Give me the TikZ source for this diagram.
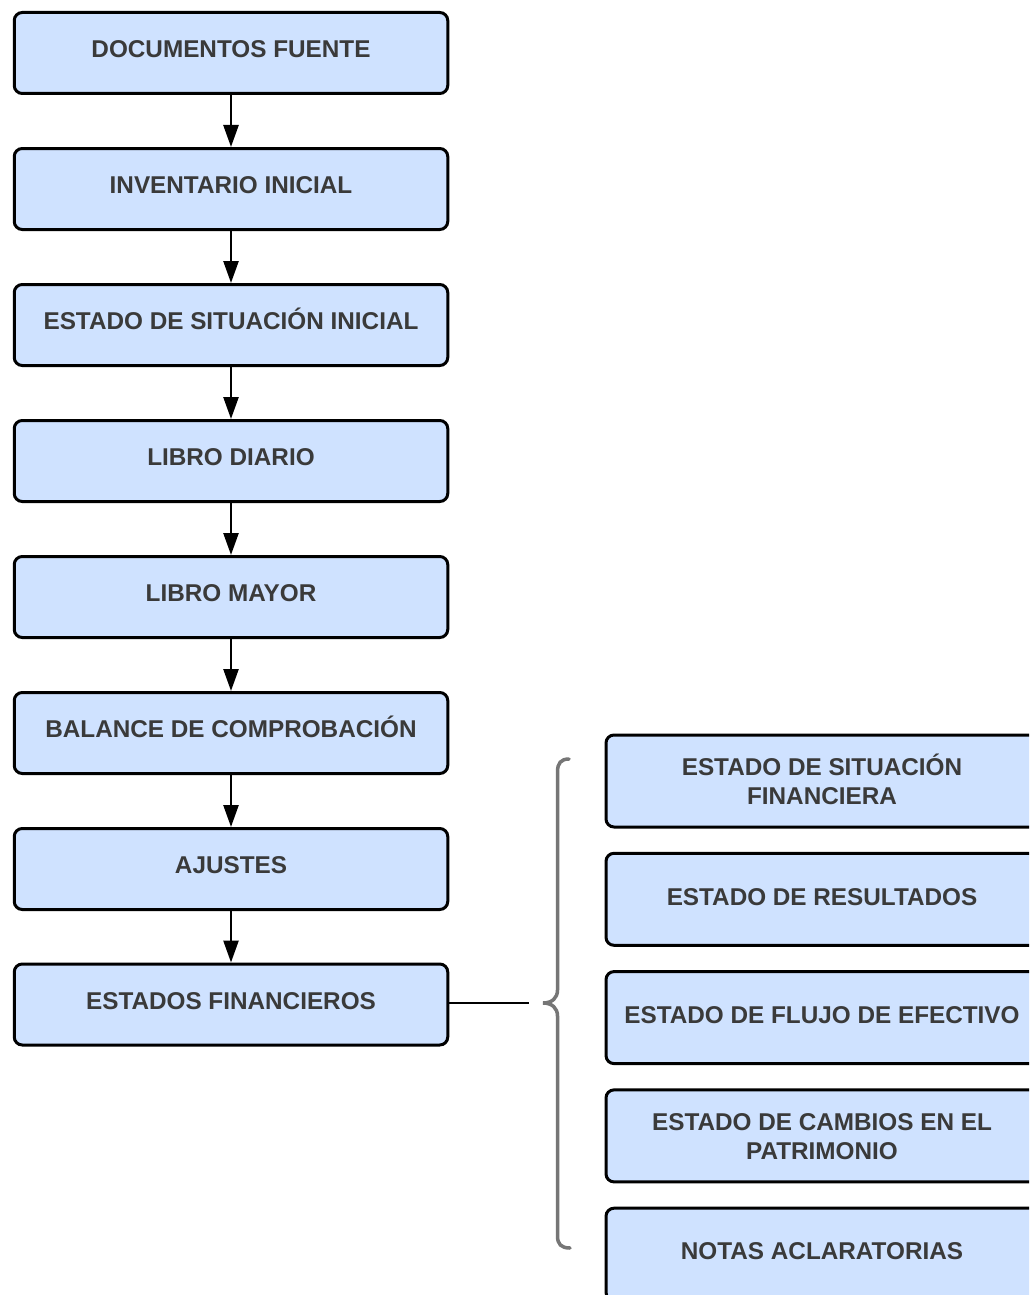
\documentclass[tikz,border=0pt]{standalone}
\usepackage{fontspec}
\setmainfont{Liberation Sans}
\usetikzlibrary{arrows.meta}
\definecolor{boxblue}{RGB}{207,226,255}
\definecolor{textgray}{RGB}{58,58,58}
\definecolor{bracegray}{RGB}{118,118,118}
\tikzset{
  box/.style={draw=black, line width=3pt, fill=boxblue, rounded corners=8pt,
    font=\bfseries\fontsize{24.3}{29}\selectfont, text=textgray,
    inner sep=0pt, align=center},
  leftbox/.style={box, minimum width=433.5pt, minimum height=81pt,
    text height=17.4pt, text depth=8pt},
  rightbox/.style={box, minimum width=432pt, minimum height=92pt,
    text height=17.4pt, text depth=6pt},
  rightboxtwo/.style={box, minimum width=432pt, minimum height=92pt,
    text height=46.4pt, text depth=0pt},
  flow/.style={line width=2.5pt, -{Triangle[length=22pt,width=15pt]}},
  link/.style={line width=2.8pt},
  bracestroke/.style={draw=bracegray, line width=3.5pt, line cap=round}
}
\begin{document}
\begin{tikzpicture}[x=1pt, y=-1pt]
\clip (0,0) rectangle (1029,1295);
\fill[white] (0,0) rectangle (1029,1295);

% main sequence of the accounting cycle
\node[leftbox] (s1) at (231,53)   {DOCUMENTOS FUENTE};
\node[leftbox] (s2) at (231,189)  {INVENTARIO INICIAL};
\node[leftbox] (s3) at (231,325)  {ESTADO DE SITUACIÓN INICIAL};
\node[leftbox] (s4) at (231,461)  {LIBRO DIARIO};
\node[leftbox] (s5) at (231,597)  {LIBRO MAYOR};
\node[leftbox] (s6) at (231,733)  {BALANCE DE COMPROBACIÓN};
\node[leftbox] (s7) at (231,869)  {AJUSTES};
\node[leftbox] (s8) at (231,1004.5) {ESTADOS FINANCIEROS};

\draw[flow] (s1.south) -- (s2.north);
\draw[flow] (s2.south) -- (s3.north);
\draw[flow] (s3.south) -- (s4.north);
\draw[flow] (s4.south) -- (s5.north);
\draw[flow] (s5.south) -- (s6.north);
\draw[flow] (s6.south) -- (s7.north);
\draw[flow] (s7.south) -- (s8.north);

% financial statements
\node[rightboxtwo] (f1) at (822,781)    {ESTADO DE SITUACIÓN\\FINANCIERA};
\node[rightbox]    (f2) at (822,899.3)  {ESTADO DE RESULTADOS};
\node[rightbox]    (f3) at (822,1017.6) {ESTADO DE FLUJO DE EFECTIVO};
\node[rightboxtwo] (f4) at (822,1135.9) {ESTADO DE CAMBIOS EN EL\\PATRIMONIO};
\node[rightbox]    (f5) at (822,1254.2) {NOTAS ACLARATORIAS};

% connector and curly brace
\coordinate (bracein) at (529,1003);
\coordinate (bracetip) at (543,1003);
\coordinate (bracetop) at (569,759);
\coordinate (bracebot) at (570,1248);
\draw[link] (s8.east |- bracein) -- (bracein);
\draw[bracestroke] (bracetop)
  .. controls (561,759) and (557.5,763) .. (557.5,772)
  -- (557.5,990)
  .. controls (557.5,998) and (552,1003) .. (bracetip)
  .. controls (552,1003) and (557.5,1008) .. (557.5,1016)
  -- (557.5,1236)
  .. controls (557.5,1244) and (561,1248) .. (bracebot);
\end{tikzpicture}
\end{document}
